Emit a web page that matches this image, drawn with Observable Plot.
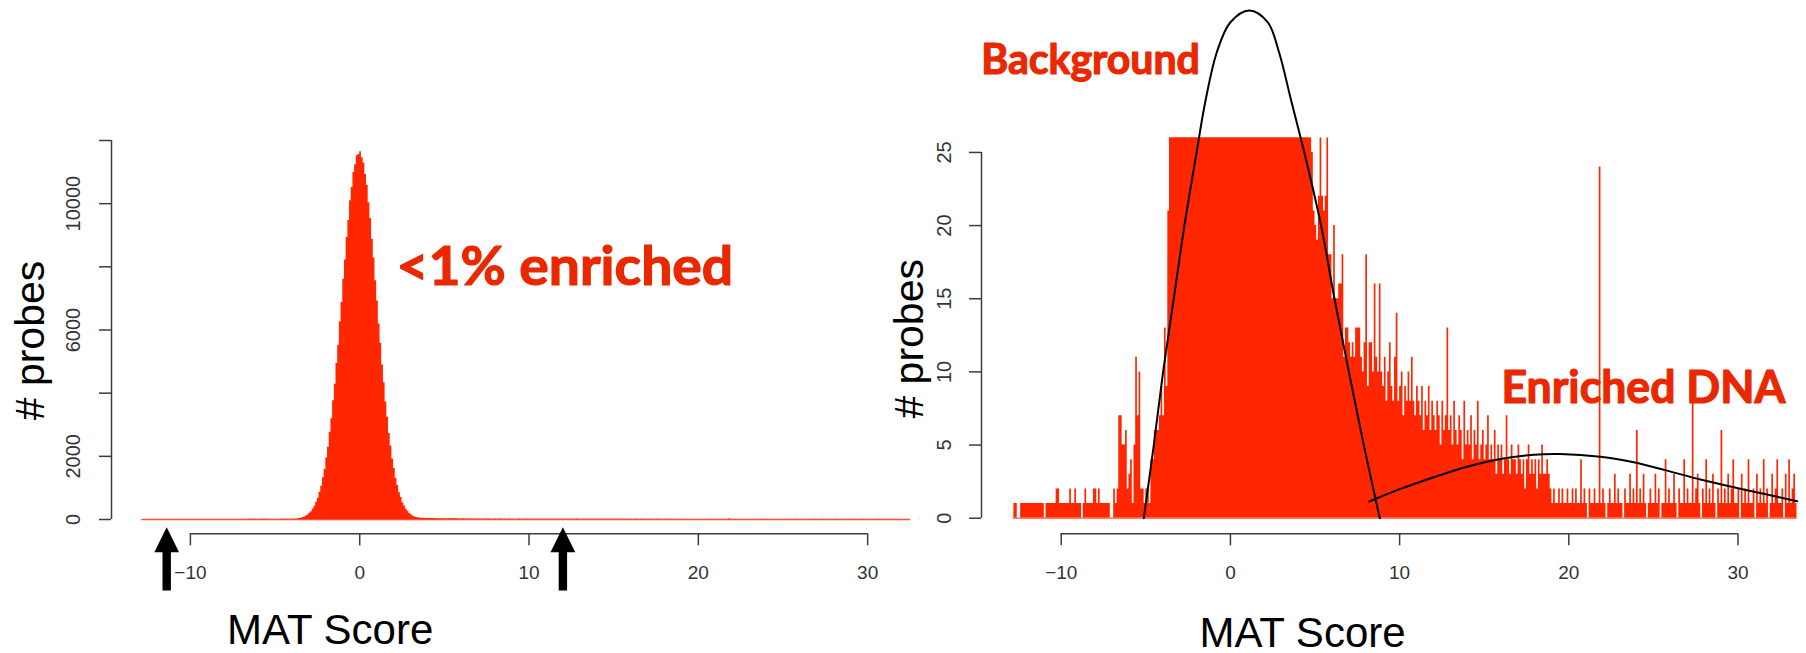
<!DOCTYPE html>
<html>
<head>
<meta charset="utf-8">
<script src="https://cdn.jsdelivr.net/npm/d3@7"></script>
<script src="https://cdn.jsdelivr.net/npm/@observablehq/plot@0.6"></script>
<style>
  html, body { margin: 0; padding: 0; background: #fff; }
  #figure { position: relative; width: 1806px; height: 653px; overflow: hidden; background: #fff; }
  #figure svg { position: absolute; top: 0; }
</style>
</head>
<body>
<div id="figure"></div>
<script>
// ---- MAT score histogram: probe counts in 0.1-wide bins ----
const binWidth = 0.1;

// left tail, bins starting at -12.8
const tailLeftStart = -12.8;
const tailLeftCounts = [
  1, 1, 0, 0, 1, 1, 1, 1, 1, 1,
  1, 1, 1, 1, 1, 1, 1, 1, 0, 1,
  1, 1, 1, 1, 1, 2, 2, 1, 1, 1,
  1, 1, 1, 2, 1, 1, 2, 1, 1, 1,
  0, 1, 2, 1, 1, 1, 1, 2, 2, 1,
  2, 1, 1, 1, 1, 1, 1, 0, 0, 2,
  1, 2, 7, 7, 5, 5, 6, 2, 3, 4,
  1, 5, 11, 7, 10, 2, 2, 1, 2, 2,
  1, 4, 4, 6, 6, 6, 7, 9, 7, 13,
  9, 21
];

// background peak, bins starting at -3.6
const coreStart = -3.6;
const coreCounts = [
  31, 40, 61, 78, 110, 141, 195, 247, 332, 418,
  547, 676, 866, 1051, 1324, 1583, 1948, 2291, 2760, 3190,
  3762, 4281, 4940, 5520, 6250, 6870, 7610, 8220, 8930, 9470,
  10090, 10510, 10990, 11230, 11520, 11560,
  11640, 11450, 11290, 10920, 10580, 10030, 9530, 8870, 8280, 7560,
  6920, 6190, 5580, 4890, 4330, 3720, 3240, 2720, 2330, 1915,
  1612, 1298, 1078, 849, 695, 533, 430, 322, 258, 188,
  150, 112, 86, 66, 52, 44,
  40, 37, 35, 33, 32, 30, 29, 29, 28, 27, 27, 26
];

// enriched right tail, bins starting at 4.8
const tailRightStart = 4.8;
const tailRightCounts = [
  25, 21, 20, 19, 22, 26, 22, 21, 22, 26,
  18, 18, 15, 20, 15, 15, 16, 16, 18, 11,
  13, 13, 12, 11, 12, 11, 13, 13, 13, 11,
  10, 12, 18, 9, 12, 12, 10, 16, 11, 10,
  16, 10, 9, 11, 8, 10, 12, 9, 8, 11,
  14, 8, 9, 10, 7, 9, 8, 10, 8, 11,
  8, 7, 9, 8, 7, 9, 6, 8, 7, 9,
  6, 8, 7, 6, 8, 7, 5, 8, 6, 7,
  13, 6, 7, 5, 8, 6, 5, 7, 6, 4,
  8, 5, 6, 5, 7, 4, 6, 5, 8, 4,
  5, 6, 4, 5, 7, 4, 5, 4, 6, 3,
  5, 4, 5, 3, 4, 7, 4, 3, 5, 4,
  4, 3, 5, 4, 3, 4, 2, 4, 5, 3,
  4, 3, 4, 2, 4, 3, 5, 3, 3, 4,
  3, 2, 1, 2, 1, 1, 2, 1, 2, 1,
  1, 2, 1, 1, 2, 1, 2, 1, 1, 4,
  1, 2, 1, 0, 2, 1, 1, 2, 1, 1,
  24, 1, 2, 1, 0, 1, 2, 1, 1, 3,
  1, 2, 1, 1, 0, 2, 1, 1, 3, 1,
  2, 1, 6, 1, 2, 1, 3, 1, 0, 1,
  2, 1, 1, 3, 1, 2, 0, 1, 1, 4,
  1, 2, 1, 1, 3, 1, 0, 2, 1, 1,
  4, 1, 2, 1, 1, 8, 1, 2, 3, 1,
  0, 2, 1, 4, 1, 2, 1, 3, 1, 0,
  2, 1, 6, 1, 2, 1, 3, 1, 2, 4,
  1, 1, 2, 0, 3, 1, 2, 1, 4, 1,
  1, 2, 0, 3, 1, 2, 1, 4, 1, 2,
  0, 1, 3, 1, 2, 4, 1, 1, 2, 0,
  3, 1, 4, 1, 2, 3, 1
];

// ---- fitted mixture components (MAT score, # probes) ----
const backgroundCurveX = [-5.12, -4.53, -3.98, -3.35, -2.72, -2.0, -1.48, -0.79, 0.0, 1.12, 2.2, 2.86, 3.6, 4.43, 5.36, 6.15, 7.0, 7.88, 8.83];
const backgroundCurveY = [0, 5, 10, 15, 20, 25.0, 28.5, 31.9, 33.9, 34.7, 33.9, 31.9, 28.5, 24.7, 20, 15, 10, 5, 0];
const enrichedCurveX = [8.21, 10.05, 12.02, 13.99, 15.96, 17.93, 19.5, 21.87, 23.84, 25.81, 27.78, 29.75, 31.72, 33.5];
const enrichedCurveY = [1.14, 2.0, 2.8, 3.52, 4.05, 4.34, 4.39, 4.2, 3.82, 3.25, 2.64, 2.11, 1.62, 1.16];

// ---- axes ----
const xTicks = [-10, 0, 10, 20, 30];
const fullYTicks = [0, 2000, 4000, 6000, 8000, 10000, 12000];
const fullYLabels = [0, 2000, 6000, 10000];
const zoomYTicks = [0, 5, 10, 15, 20, 25];
const xDomainFull = [-12.87, 32.53];
const yDomainFull = [0, 12000];
const xDomainZoom = [-12.84, 33.5];
const yDomainZoom = [0, 26];
const xTitle = "MAT Score";
const yTitle = "# probes";

// ---- annotations ----
const thresholdScores = [-11.4, 12.0];
const fullNoteText = ["<1% enriched"];
const fullNoteX = [2.17];
const fullNoteY = [7409];
const zoomNoteText = ["Background", "Enriched DNA"];
const zoomNoteX = [-14.73, 16.02];
const zoomNoteY = [30.37, 7.86];

// ---- derived tables ----
const bins = [
  ...tailLeftCounts.map((c, i) => ({x0: +(tailLeftStart + i * binWidth).toFixed(2), count: c})),
  ...coreCounts.map((c, i) => ({x0: +(coreStart + i * binWidth).toFixed(2), count: c})),
  ...tailRightCounts.map((c, i) => ({x0: +(tailRightStart + i * binWidth).toFixed(2), count: c}))
];
const lastBin = bins[bins.length - 1];
const steps = bins.map(b => ({x: b.x0, y: b.count}))
  .concat([{x: +(lastBin.x0 + binWidth).toFixed(2), y: lastBin.count}]);
const backgroundCurve = backgroundCurveX.map((x, i) => ({x, y: backgroundCurveY[i]}));
const enrichedCurve = enrichedCurveX.map((x, i) => ({x, y: enrichedCurveY[i]}));
const fullNotes = fullNoteText.map((t, i) => ({t, x: fullNoteX[i], y: fullNoteY[i]}));
const zoomNotes = zoomNoteText.map((t, i) => ({t, x: zoomNoteX[i], y: zoomNoteY[i]}));

// ---- styles ----
const histRed = "#ff2600";
const baseRed = "#ff5034";
const noteRed = "#ea2800";
const axisGray = "#3c3c3c";
const labelGray = "#333";
const svgStyle = {background: "transparent", overflow: "visible", fontFamily: "'Liberation Sans', Arial, sans-serif"};
const noteFont = "Lato, 'Open Sans', sans-serif";
const noteWidths = {"<1% enriched": 336.7, "Background": 218.6, "Enriched DNA": 284};

// filled upward arrow: tip at the origin, shaft hanging below
const arrowUp = {
  draw(context) {
    context.moveTo(0, 0);
    context.lineTo(12.4, 25);
    context.lineTo(4.2, 25);
    context.lineTo(4.2, 63.3);
    context.lineTo(-4.2, 63.3);
    context.lineTo(-4.2, 25);
    context.lineTo(-12.4, 25);
    context.closePath();
  }
};

// stretch the hand-lettered notes to their set widths
function fitNoteWidths(svg) {
  svg.querySelectorAll("text").forEach(el => {
    const w = noteWidths[el.textContent];
    if (w) {
      el.setAttribute("textLength", w);
      el.setAttribute("lengthAdjust", "spacingAndGlyphs");
    }
  });
}

// ---- left panel: full histogram ----
const fullPanel = Plot.plot({
  width: 910,
  height: 653,
  marginLeft: 141.3,
  marginRight: 0,
  marginTop: 140,
  marginBottom: 134,
  x: {domain: xDomainFull},
  y: {domain: yDomainFull},
  style: svgStyle,
  marks: [
    Plot.ruleY([0], {stroke: baseRed, strokeWidth: 1.6}),
    Plot.areaY(steps, {x: "x", y: "y", curve: "step-after", fill: histRed}),
    Plot.ruleX([xDomainFull[0]], {y1: fullYTicks[0], y2: fullYTicks[fullYTicks.length - 1], dx: -30.3, stroke: axisGray, strokeWidth: 1.5}),
    Plot.axisY(fullYTicks, {tickSize: 12, dx: -30.3, stroke: axisGray, strokeWidth: 1.5, fill: "none", label: null}),
    Plot.text(fullYLabels, {y: d => d, text: d => String(d), frameAnchor: "left", textAnchor: "middle", dx: -68.3, rotate: -90, fontSize: 20, fill: labelGray}),
    Plot.ruleY([0], {x1: xTicks[0], x2: xTicks[xTicks.length - 1], dy: 14.3, stroke: axisGray, strokeWidth: 1.5}),
    Plot.axisX(xTicks, {tickSize: 12, tickPadding: 20, dy: 14.3, stroke: axisGray, strokeWidth: 1.5, fill: labelGray, fontSize: 19, label: null}),
    Plot.text([xTitle], {frameAnchor: "bottom-left", textAnchor: "middle", dx: 188.4, dy: 124.3, lineAnchor: "bottom", fontSize: 42, fill: "#000"}),
    Plot.text([yTitle], {frameAnchor: "left", textAnchor: "middle", dx: -110.7, dy: 10.5, rotate: -90, fontSize: 41, fill: "#000"}),
    Plot.dot(thresholdScores, {x: d => d, frameAnchor: "bottom", dy: 7.7, symbol: arrowUp, fill: "#000", stroke: "none"}),
    Plot.text(fullNotes, {x: "x", y: "y", text: "t", textAnchor: "start", lineAnchor: "bottom", fontSize: 53, fontWeight: "bold", fontFamily: noteFont, fill: noteRed, stroke: noteRed, strokeWidth: 1.2, strokeLinejoin: "round"})
  ]
});
fitNoteWidths(fullPanel);
fullPanel.style.left = "0px";

// ---- right panel: low-count detail with mixture fit ----
const zoomPanel = Plot.plot({
  width: 926,
  height: 653,
  marginLeft: 132.7,
  marginRight: 9.3,
  marginTop: 137.3,
  marginBottom: 135.3,
  x: {domain: xDomainZoom},
  y: {domain: yDomainZoom},
  style: svgStyle,
  marks: [
    Plot.ruleY([0], {stroke: baseRed, strokeWidth: 1.2}),
    Plot.areaY(steps, {x: "x", y: "y", curve: "step-after", fill: histRed, clip: true}),
    Plot.line(backgroundCurve, {x: "x", y: "y", curve: "catmull-rom", stroke: "#000", strokeWidth: 2}),
    Plot.line(enrichedCurve, {x: "x", y: "y", curve: "catmull-rom", stroke: "#000", strokeWidth: 2}),
    Plot.ruleX([xDomainZoom[0]], {y1: zoomYTicks[0], y2: zoomYTicks[zoomYTicks.length - 1], dx: -31.7, stroke: axisGray, strokeWidth: 1.5}),
    Plot.axisY(zoomYTicks, {tickSize: 12, dx: -31.7, stroke: axisGray, strokeWidth: 1.5, fill: "none", label: null}),
    Plot.text(zoomYTicks, {y: d => d, text: d => String(d), frameAnchor: "left", textAnchor: "middle", dx: -68.2, rotate: -90, fontSize: 20, fill: labelGray}),
    Plot.ruleY([0], {x1: xTicks[0], x2: xTicks[xTicks.length - 1], dy: 15.6, stroke: axisGray, strokeWidth: 1.5}),
    Plot.axisX(xTicks, {tickSize: 12, tickPadding: 20, dy: 15.6, stroke: axisGray, strokeWidth: 1.5, fill: labelGray, fontSize: 19, label: null}),
    Plot.text([xTitle], {frameAnchor: "bottom-left", textAnchor: "middle", dx: 289.3, dy: 129, lineAnchor: "bottom", fontSize: 42, fill: "#000"}),
    Plot.text([yTitle], {frameAnchor: "left", textAnchor: "middle", dx: -103.5, dy: 10.8, rotate: -90, fontSize: 41, fill: "#000"}),
    Plot.text(zoomNotes, {x: "x", y: "y", text: "t", textAnchor: "start", lineAnchor: "bottom", fontSize: d => d.t === "Background" ? 42 : 45, fontWeight: "bold", fontFamily: noteFont, fill: noteRed, stroke: noteRed, strokeWidth: 1.2, strokeLinejoin: "round"})
  ]
});
fitNoteWidths(zoomPanel);
zoomPanel.style.left = "880px";

const figure = document.getElementById("figure");
figure.appendChild(fullPanel);
figure.appendChild(zoomPanel);
</script>
</body>
</html>
